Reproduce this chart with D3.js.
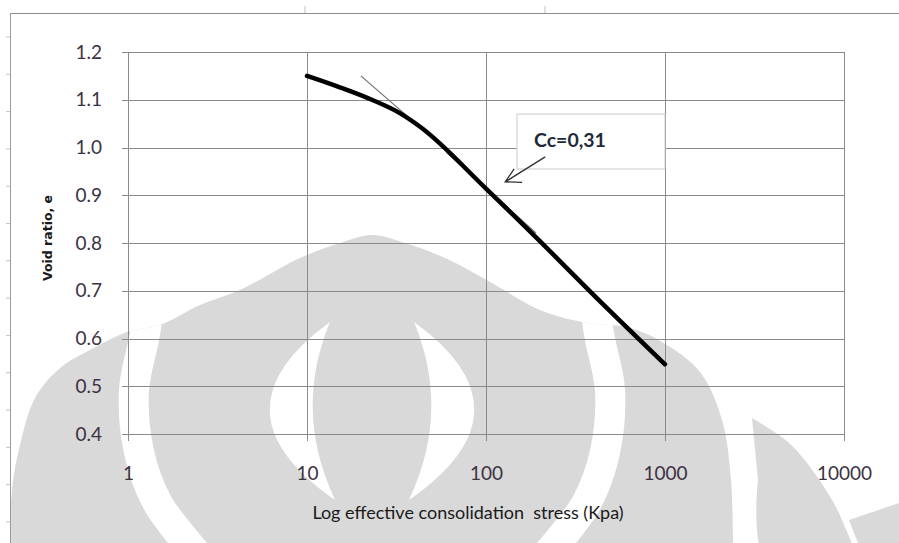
<!DOCTYPE html>
<html>
<head>
<meta charset="utf-8">
<script src="https://cdn.jsdelivr.net/npm/d3@7"></script>
<style>
  body { margin: 0; background: #fff; }
  svg { display: block; }
</style>
</head>
<body>
<svg width="899" height="543"></svg>
<script>
;(function (d3) {
  var svg = d3.select('svg')

  // data
  var stress = [10, 15, 23, 33, 43, 100, 200, 400, 1000]
  var voidRatio = [1.15, 1.127, 1.10, 1.072, 1.043, 0.914, 0.804, 0.691, 0.546]
  var tangentStress = [20, 40]
  var tangentE = [1.15, 1.052]
  var ccStress = [60, 190]
  var ccE = [0.99, 0.821]
  var xTicks = [1, 10, 100, 1000, 10000]
  var yTicks = [0.4, 0.5, 0.6, 0.7, 0.8, 0.9, 1.0, 1.1, 1.2]
  var ccLabel = 'Cc=0,31'
  var ccBox = {x0: 149, x1: 1000, y0: 1.07, y1: 0.955}
  var ccTip = {x: 128, y: 0.928}

  var left = 128, right = 844, top = 52, bottom = 434

  var x = d3.scaleLog().domain([1, 10000]).range([left, right])
  var y = d3.scaleLinear().domain([0.4, 1.2]).range([bottom, top])

  // background watermark of the scanned page
  var wm = svg.append('g').attr('class', 'watermark')
  var grey = '#d9d9d9'
  var dome = [[10, 560], [12, 490], [20, 445], [35, 398], [60, 368], [90, 350],
    [127, 332], [160, 325], [200, 305], [240, 290], [300, 258], [340, 243],
    [372, 235], [405, 243], [445, 258], [492, 283], [540, 310], [582, 322],
    [630, 328], [662, 342], [700, 372], [722, 420], [731, 480], [733, 560]]
  var domePath = d3.line().curve(d3.curveCatmullRom)(dome) + 'Z'
  wm.append('path').attr('d', domePath).attr('fill', grey)
  wm.append('clipPath').attr('id', 'domeclip').append('path').attr('d', domePath)
  var wmc = wm.append('g').attr('clip-path', 'url(#domeclip)')
  var bandL = [[152, 250], [146, 328], [134, 390], [139, 452], [157, 502], [185, 540], [215, 575]]
  var bandR = bandL.map(function (p) { return [744 - p[0], p[1]] })
  ;[bandL, bandR].forEach(function (b) {
    wmc.append('path')
      .attr('d', d3.line().curve(d3.curveCatmullRom)(b))
      .attr('fill', 'none').attr('stroke', '#fff').attr('stroke-width', 30)
  })
  wmc.append('path')
    .attr('d', 'M330,322 Q207,411 335,500 Q293,411 330,322 Z')
    .attr('fill', '#fff')
  wmc.append('path')
    .attr('d', 'M414,322 Q537,411 409,500 Q451,411 414,322 Z')
    .attr('fill', '#fff')
  wm.append('path')
    .attr('d', d3.line().curve(d3.curveCatmullRom)([[752, 418], [788, 442], [818, 478],
      [842, 520], [852, 560], [766, 560], [758, 480]]) + 'Z')
    .attr('fill', grey)
  wm.append('path')
    .attr('d', 'M849,520 L899,503 L899,543 L858,543 Z')
    .attr('fill', grey)

  // page frame
  svg.append('line').attr('x1', 10).attr('x2', 899).attr('y1', 13.5).attr('y2', 13.5)
    .attr('stroke', '#8c8c8c')
  svg.append('line').attr('x1', 10.5).attr('x2', 10.5).attr('y1', 13).attr('y2', 543)
    .attr('stroke', '#9a9a9a')
  d3.range(37, 543, 37.3).forEach(function (v) {
    svg.append('line').attr('x1', 6).attr('x2', 10).attr('y1', v).attr('y2', v)
      .attr('stroke', '#c4c4c4')
  })
  ;[305, 545].forEach(function (v) {
    svg.append('line').attr('x1', v).attr('x2', v).attr('y1', 6).attr('y2', 13)
      .attr('stroke', '#c4c4c4')
  })

  // grid
  var gridColor = '#8a8a8a'
  svg.append('g').selectAll('line')
    .data(yTicks)
    .enter().append('line')
    .attr('x1', left - 6).attr('x2', right)
    .attr('y1', function (d) { return Math.round(y(d)) + 0.5 })
    .attr('y2', function (d) { return Math.round(y(d)) + 0.5 })
    .attr('stroke', gridColor)
  svg.append('g').selectAll('line')
    .data(xTicks)
    .enter().append('line')
    .attr('x1', function (d) { return Math.round(x(d)) + 0.5 })
    .attr('x2', function (d) { return Math.round(x(d)) + 0.5 })
    .attr('y1', top).attr('y2', bottom + 7)
    .attr('stroke', gridColor)

  // axes (labels only, lines come from the grid)
  var xAxis = svg.append('g')
    .attr('transform', 'translate(0,' + bottom + ')')
    .call(d3.axisBottom(x).tickValues(xTicks).tickFormat(d3.format('d')).tickSize(0).tickPadding(33))
  var yAxis = svg.append('g')
    .attr('transform', 'translate(' + left + ',0)')
    .call(d3.axisLeft(y).tickValues(yTicks).tickFormat(d3.format('.1f')).tickSize(0).tickPadding(26))
  ;[xAxis, yAxis].forEach(function (a) {
    a.select('.domain').remove()
    a.selectAll('text')
      .style('font-family', 'Lato, "Open Sans", sans-serif')
      .style('font-size', '19px')
      .attr('fill', '#3c3242')
  })

  // tangent lines
  var pair = function (xs, ys) { return xs.map(function (v, i) { return [x(v), y(ys[i])] }) }
  svg.append('path')
    .attr('d', d3.line()(pair(tangentStress, tangentE)))
    .attr('stroke', '#707070').attr('stroke-width', 1.2).attr('fill', 'none')
  svg.append('path')
    .attr('d', d3.line()(pair(ccStress, ccE)))
    .attr('stroke', '#707070').attr('stroke-width', 1.2).attr('fill', 'none')

  // main curve
  svg.append('path')
    .attr('d', d3.line().curve(d3.curveMonotoneX)(pair(stress, voidRatio)))
    .attr('stroke', '#000').attr('stroke-width', 4.5)
    .attr('stroke-linecap', 'round').attr('fill', 'none')

  // annotation
  var box = svg.append('g')
  box.append('rect')
    .attr('x', x(ccBox.x0)).attr('y', y(ccBox.y0))
    .attr('width', x(ccBox.x1) - x(ccBox.x0)).attr('height', y(ccBox.y1) - y(ccBox.y0))
    .attr('fill', '#fff').attr('stroke', '#cccccc')
  box.append('text')
    .attr('x', x(ccBox.x0) + 17).attr('y', y(ccBox.y0) + 33)
    .text(ccLabel)
    .style('font-family', 'Lato, "Open Sans", sans-serif')
    .style('font-size', '19.5px').style('font-weight', 'bold')
    .attr('fill', '#1e2a3a')
  var tx = x(ccTip.x), ty = y(ccTip.y)
  box.append('path')
    .attr('d', 'M' + (tx + 40) + ',' + (ty - 25) + 'L' + tx + ',' + ty +
      'M' + (tx + 9) + ',' + (ty - 13) + 'L' + tx + ',' + ty +
      'L' + (tx + 17) + ',' + (ty + 0.5))
    .attr('stroke', '#333').attr('stroke-width', 1.3).attr('fill', 'none')

  // axis titles
  svg.append('text')
    .attr('x', 468).attr('y', 519)
    .attr('text-anchor', 'middle')
    .text('Log effective consolidation  stress (Kpa)')
    .style('font-family', 'Lato, "Open Sans", sans-serif')
    .style('font-size', '18px').style('white-space', 'pre')
    .attr('fill', '#1a1a1a')
  svg.append('text')
    .attr('transform', 'translate(52,238) rotate(-90)')
    .attr('text-anchor', 'middle')
    .text('Void ratio, e')
    .style('font-family', '"DejaVu Sans", sans-serif')
    .style('font-size', '12.5px').style('font-weight', 'bold')
    .attr('fill', '#1a1a1a')
})(window.d3)
</script>
</body>
</html>
